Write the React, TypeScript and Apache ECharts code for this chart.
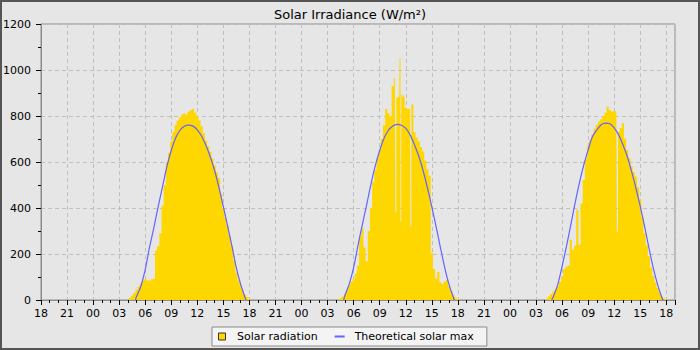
import React, { useEffect, useRef } from "react";
import * as echarts from "echarts";

const TITLE = "Solar Irradiance (W/m²)";
const SERIES_RADIATION = "Solar radiation";
const SERIES_THEORY = "Theoretical solar max";

// x axis: hours counted from 18:00 of the first (partial) day
const AXIS_START_CLOCK = 18;
const AXIS_SPAN_HOURS = 73;
const DAY_MIDNIGHT_OFFSETS = [6, 30, 54];

// measured radiation, 15-minute samples from 04:00 to 18:15 each day (W/m²)
const RAD_FIRST_HOUR = 4.0;
const RAD_STEP_HOURS = 0.25;
const radiationDay1 = [
  0, 10, 20, 32, 45, 58, 72, 85, 90, 86, 84, 90, 92, 215, 235, 290, 410, 500, 600, 640,
  690, 730, 760, 780, 795, 805, 812, 805, 818, 826, 830, 815, 800, 780, 755, 725, 692, 668,
  645, 615, 585, 555, 530, 462, 398, 358, 322, 278, 236, 172, 118, 86, 66, 42, 24, 12, 5, 0,
];
const radiationDay2 = [
  0, 3, 8, 15, 26, 42, 64, 80, 90, 115, 150, 275, 312, 228, 168, 300, 398, 512, 565, 615,
  650, 700, 760, 830, 812, 800, 930, 965, 880, 885, 893, 885, 836, 830, 830, 850, 730, 705,
  690, 665, 646, 605, 568, 540, 205, 135, 92, 122, 76, 70, 80, 88, 60, 40, 22, 10, 3, 0,
];
const radiationDay3 = [
  0, 6, 16, 26, 38, 48, 60, 78, 102, 135, 145, 150, 262, 220, 236, 392, 240, 418, 522, 612,
  668, 695, 720, 745, 762, 776, 786, 800, 815, 840, 826, 820, 822, 820, 730, 748, 768, 702,
  652, 615, 582, 556, 536, 490, 436, 360, 290, 238, 190, 140, 104, 76, 52, 32, 16, 6, 2, 0,
];
// short single readings (clock hour, W/m²) between the regular samples
const radiationBlipsDay1: number[][] = [];
const radiationBlipsDay2 = [[10.84, 380], [11.32, 1050], [11.47, 340], [12.53, 320]];
const radiationBlipsDay3 = [[12.37, 298]];

// theoretical clear-sky maximum, 30-minute samples from 05:00 to 17:30 (W/m²)
const THEORY_FIRST_HOUR = 5.0;
const THEORY_STEP_HOURS = 0.5;
const theoryDay1 = [15, 60, 132, 230, 315, 407, 494, 581, 650, 704, 738, 755, 760, 756, 740, 712, 672, 622, 562, 487, 405, 320, 232, 139, 67, 10];
const theoryDay2 = [20, 70, 142, 238, 328, 415, 505, 585, 650, 703, 738, 757, 764, 760, 746, 718, 675, 625, 562, 487, 405, 318, 226, 139, 65, 10];
const theoryDay3 = [15, 67, 146, 233, 327, 422, 510, 588, 653, 711, 740, 762, 769, 766, 748, 719, 675, 625, 559, 487, 407, 320, 226, 139, 67, 9];
const sunriseHours = [4.86, 4.85, 4.8];
const sunsetHours = [17.6, 17.6, 17.65];

const Y_MIN = 0;
const Y_MAX = 1200;
const Y_INTERVAL = 200;
const X_LABEL_INTERVAL = 3;

const FONT = "DejaVu Sans";
const GOLD = "#FFD700";
const BLUE = "#6464ff";

function buildRadiation(): (number | string)[][] {
  const out: (number | string)[][] = [];
  const days = [radiationDay1, radiationDay2, radiationDay3];
  const blips = [radiationBlipsDay1, radiationBlipsDay2, radiationBlipsDay3];
  days.forEach((vals, d) => {
    const pts: number[][] = vals.map((v, i) => [RAD_FIRST_HOUR + i * RAD_STEP_HOURS, v]);
    blips[d].forEach((b) => pts.push([b[0], b[1]]));
    pts.sort((a, b) => a[0] - b[0]);
    pts.forEach((p) => out.push([DAY_MIDNIGHT_OFFSETS[d] + p[0], p[1]]));
  });
  return out;
}

function buildTheory(): (number | string)[][] {
  const out: (number | string)[][] = [];
  [theoryDay1, theoryDay2, theoryDay3].forEach((vals, d) => {
    const base = DAY_MIDNIGHT_OFFSETS[d];
    out.push([base + sunriseHours[d], 0]);
    vals.forEach((v, i) => out.push([base + THEORY_FIRST_HOUR + i * THEORY_STEP_HOURS, v]));
    out.push([base + sunsetHours[d], 0]);
    out.push([base + 20, "-"]);
  });
  return out;
}

export default function App() {
  const ref = useRef<HTMLDivElement>(null);

  useEffect(() => {
    if (!ref.current) return;
    const chart = echarts.init(ref.current, undefined, { renderer: "svg" });
    const dash = [4, 3];
    const option: any = {
      animation: false,
      backgroundColor: "#e6e6e6",
      textStyle: { fontFamily: FONT },
      title: {
        text: TITLE,
        left: "center",
        top: 3,
        textStyle: { fontFamily: FONT, fontSize: 13, fontWeight: "normal", color: "#000" },
      },
      grid: {
        left: 40,
        right: 25,
        top: 24,
        bottom: 50,
        show: true,
        borderColor: "#8c8c8c",
        borderWidth: 1,
        backgroundColor: "transparent",
      },
      legend: {
        left: 212,
        top: 327,
        padding: [4, 13, 4, 6],
        itemGap: 17,
        itemWidth: 10,
        itemHeight: 7,
        backgroundColor: "#f4f4f4",
        borderColor: "#8a8a8a",
        borderWidth: 1,
        selectedMode: false,
        textStyle: { fontFamily: FONT, fontSize: 11, color: "#000", padding: [0, 0, 0, 5] },
        data: [
          {
            name: SERIES_RADIATION,
            icon: "path://M0,0H7V7H0Z",
            itemStyle: { color: GOLD, borderColor: "#333", borderWidth: 1 },
          },
          {
            name: SERIES_THEORY,
            icon: "path://M0,0H10V2H0Z",
            itemStyle: { color: BLUE, borderWidth: 0 },
          },
        ],
      },
      xAxis: [
        {
          type: "value",
          min: 0,
          max: AXIS_SPAN_HOURS,
          interval: X_LABEL_INTERVAL,
          position: "bottom",
          axisLine: { show: true, lineStyle: { color: "#8c8c8c" } },
          axisTick: { show: true, length: 5, lineStyle: { color: "#000" } },
          axisLabel: {
            margin: 8,
            fontFamily: FONT,
            fontSize: 11,
            color: "#000",
            formatter: (v: number) => {
              const r = Math.round(v);
              if (r % X_LABEL_INTERVAL !== 0) return "";
              return String((AXIS_START_CLOCK + r) % 24).padStart(2, "0");
            },
          },
          splitLine: { show: true, lineStyle: { color: "#c0c0c0", type: dash } },
        },
        {
          type: "value",
          min: 0,
          max: AXIS_SPAN_HOURS,
          interval: 1,
          position: "bottom",
          axisLine: { show: false },
          axisTick: { show: true, length: 3, lineStyle: { color: "#000" } },
          axisLabel: { show: false },
          splitLine: { show: false },
        },
      ],
      yAxis: {
        type: "value",
        min: Y_MIN,
        max: Y_MAX,
        interval: Y_INTERVAL,
        axisLine: { show: true, lineStyle: { color: "#8c8c8c" } },
        axisTick: { show: true, length: 5, lineStyle: { color: "#000" } },
        minorTick: { show: true, splitNumber: 2, length: 3, lineStyle: { color: "#000" } },
        axisLabel: {
          margin: 10,
          fontFamily: FONT,
          fontSize: 11,
          color: "#000",
          formatter: (v: number) => String(v),
        },
        splitLine: { show: true, lineStyle: { color: "#c0c0c0", type: dash } },
      },
      series: [
        {
          type: "line",
          name: SERIES_RADIATION,
          xAxisIndex: 0,
          data: buildRadiation(),
          step: "middle",
          symbol: "none",
          showSymbol: false,
          lineStyle: { width: 0, opacity: 0 },
          areaStyle: { color: GOLD, opacity: 1 },
          itemStyle: { color: GOLD },
          clip: true,
          z: 2,
        },
        {
          type: "line",
          name: SERIES_THEORY,
          xAxisIndex: 0,
          data: buildTheory(),
          smooth: 0.3,
          symbol: "none",
          showSymbol: false,
          connectNulls: false,
          lineStyle: { color: BLUE, width: 1.2 },
          itemStyle: { color: BLUE },
          clip: true,
          z: 3,
        },
      ],
      graphic: [
        {
          type: "rect",
          silent: true,
          z: 100,
          shape: { x: 1, y: 1, width: 698, height: 348 },
          style: { fill: "none", stroke: "#555", lineWidth: 2 },
        },
      ],
    };
    chart.setOption(option);
    return () => chart.dispose();
  }, []);

  return (
    <div
      ref={ref}
      style={{ position: "fixed", left: 0, top: 0, width: 700, height: 350 }}
    />
  );
}
